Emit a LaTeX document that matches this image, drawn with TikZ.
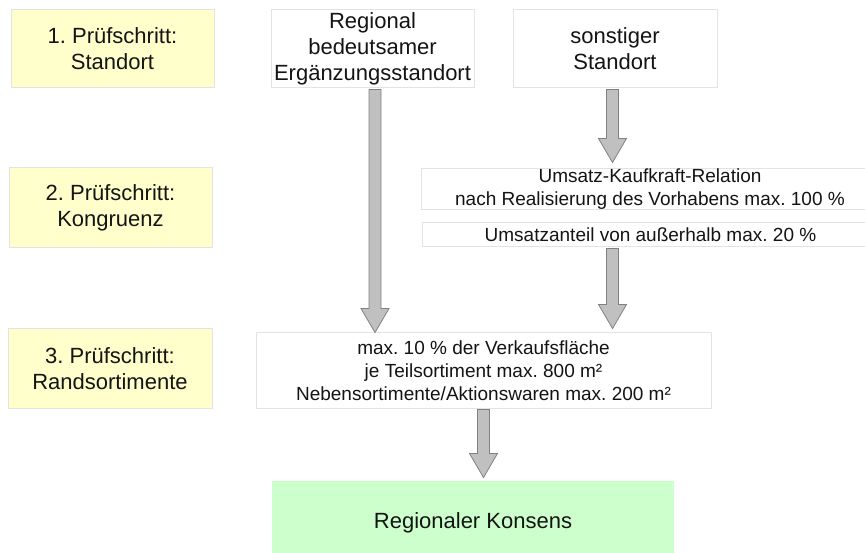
\documentclass[tikz,border=0pt]{standalone}
\usepackage{fontspec}
\setmainfont{Liberation Sans}
\usetikzlibrary{calc}
\frenchspacing
\definecolor{boxline}{HTML}{E3E3E3}
\definecolor{stepfill}{HTML}{FFFFCC}
\definecolor{okfill}{HTML}{CCFFCC}
\definecolor{arrfill}{HTML}{C0C0C0}
\definecolor{arrline}{HTML}{808080}
\definecolor{txt}{HTML}{141414}
\newcommand{\blockarr}[3]{%
  \filldraw[arrowbody] let \p1=#1, \p2=#2 in
   ({\x1-6pt},{\y1-1pt}) -- ({\x1+6pt},{\y1-1pt}) -- ({\x1+6pt},{\y2+#3+24pt})
   -- ({\x1+14pt},{\y2+#3+24pt}) -- ({\x1},{\y2+#3}) -- ({\x1-14pt},{\y2+#3+24pt})
   -- ({\x1-6pt},{\y2+#3+24pt}) -- cycle;}
\begin{document}
\begin{tikzpicture}[x=1pt,y=-1pt,
  box/.style={draw=boxline, line width=1pt, align=center, inner sep=0pt, text=txt},
  big/.style={font=\fontsize{22}{26}\selectfont\frenchspacing},
  small/.style={font=\fontsize{19}{23}\selectfont\frenchspacing},
  stepbox/.style={box, big, fill=stepfill, minimum width=203pt},
  plainbox/.style={box, fill=white},
  arrowbody/.style={fill=arrfill, draw=arrline, line width=0.8pt, line join=miter}]
\useasboundingbox (0,0) rectangle (865,553);
% left column
\node[stepbox, minimum height=78pt] (s1) at (112.5,49) {1. Prüfschritt:\\Standort};
\node[stepbox, minimum height=80pt] (s2) at (110.5,208) {2. Prüfschritt:\\Kongruenz};
\node[stepbox, minimum height=79pt, minimum width=204pt] (s3) at (110,368.5) {3. Prüfschritt:\\Randsortimente};
% top boxes
\node[plainbox, big, minimum width=203pt, minimum height=78pt] (reg) at (372.5,49) {Regional\\bedeutsamer\\Ergänzungsstandort};
\node[plainbox, big, minimum width=204pt, minimum height=78pt] (son) at (615,49) {sonstiger\\Standort};
% congruence boxes
\node[plainbox, small, minimum width=458pt, minimum height=41pt] (ukr) at (650,189.5) {Umsatz-Kaufkraft-Relation\\nach Realisierung des Vorhabens max. 100 \%};
\node[plainbox, small, minimum width=457pt, minimum height=24pt] (ua) at (650.5,235) {Umsatzanteil von außerhalb max. 20 \%};
% assortment box
\node[plainbox, small, minimum width=455pt, minimum height=75pt] (rand) at (483.5,370.5) {max. 10 \% der Verkaufsfläche\\je Teilsortiment max. 800 m²\\Nebensortimente/Aktionswaren max. 200 m²};
% result
\node[box, big, fill=okfill, draw=none, minimum width=402pt, minimum height=84pt] (kons) at (473,523) {Regionaler Konsens};
% arrows
\blockarr{([xshift=2.5pt]reg.south)}{(rand.north)}{0pt}
\blockarr{([xshift=-2.5pt]son.south)}{(ukr.north)}{6pt}
\blockarr{([xshift=-38pt]ua.south)}{(rand.north)}{4pt}
\blockarr{(rand.south)}{(kons.north)}{3pt}
\end{tikzpicture}
\end{document}
